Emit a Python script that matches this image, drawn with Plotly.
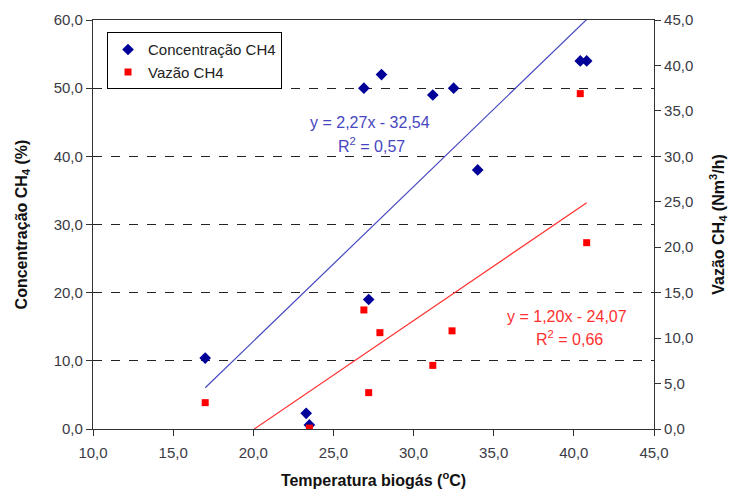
import plotly.graph_objects as go

# Data
temp_conc = [17.0, 23.3, 23.5, 26.9, 27.2, 28.0, 31.2, 32.5, 34.0, 40.4, 40.8]
conc_ch4 = [10.4, 2.3, 0.6, 50.0, 19.0, 52.0, 49.0, 50.0, 38.0, 54.0, 54.0]

temp_vaz = [17.0, 23.5, 26.9, 27.2, 27.9, 31.2, 32.4, 40.4, 40.8]
vazao_ch4 = [2.9, 0.1, 13.1, 4.0, 10.6, 7.0, 10.8, 36.9, 20.5]

# Trendline coefficients (slope, intercept) and R² shown on the chart
conc_fit = [2.27, -32.54]
vaz_fit = [1.20, -24.07]
conc_r2 = 0.57
vaz_r2 = 0.66

x_ticks = [10, 15, 20, 25, 30, 35, 40, 45]
y1_ticks = [0, 10, 20, 30, 40, 50, 60]
y2_ticks = [0, 5, 10, 15, 20, 25, 30, 35, 40, 45]


def fmt(v, d=1):
    return f"{v:.{d}f}".replace(".", ",")


FONT = "Liberation Sans, Arial, sans-serif"
BLUE_LINE = "#4646c0"
RED_LINE = "#ff3030"

fig = go.Figure()

# trend lines
x0c, x1c = min(temp_conc), max(temp_conc)
fig.add_trace(go.Scatter(
    x=[x0c, x1c], y=[conc_fit[0] * x0c + conc_fit[1], conc_fit[0] * x1c + conc_fit[1]],
    mode="lines", line=dict(color=BLUE_LINE, width=1.2), showlegend=False, hoverinfo="skip"))

x0v = -vaz_fit[1] / vaz_fit[0]
x1v = max(temp_vaz)
fig.add_trace(go.Scatter(
    x=[x0v, x1v], y=[0, vaz_fit[0] * x1v + vaz_fit[1]], yaxis="y2",
    mode="lines", line=dict(color=RED_LINE, width=1.2), showlegend=False, hoverinfo="skip"))

fig.add_trace(go.Scatter(
    x=temp_conc, y=conc_ch4, mode="markers", name="Concentração CH4",
    marker=dict(symbol="diamond", color="#000099", size=9)))
fig.add_trace(go.Scatter(
    x=temp_vaz, y=vazao_ch4, mode="markers", name="Vazão CH4", yaxis="y2",
    marker=dict(symbol="square", color="#ff0000", size=7)))

tickfont = dict(family=FONT, size=15, color="#3a3a44")
titlefont = dict(family=FONT, size=16, color="#111111")

fig.update_layout(
    width=732, height=496,
    margin=dict(l=93, r=78, t=20, b=67),
    paper_bgcolor="white", plot_bgcolor="white",
    font=dict(family=FONT),
    xaxis=dict(
        range=[10, 45], tickvals=x_ticks, ticktext=[fmt(v) for v in x_ticks],
        showgrid=False, zeroline=False, showline=True, linecolor="#333", linewidth=1.2,
        mirror=True, ticks="outside", ticklen=6, tickcolor="#333", tickfont=tickfont,
        ticklabelstandoff=4, automargin=False,
        title=dict(text="<b>Temperatura biogás (<sup>o</sup>C)</b>", font=titlefont, standoff=14)),
    yaxis=dict(
        range=[0, 60], tickvals=y1_ticks, ticktext=[fmt(v) for v in y1_ticks],
        showgrid=True, gridcolor="#222", griddash="dash", gridwidth=1,
        zeroline=False, showline=True, linecolor="#333", linewidth=1.2,
        mirror=True, ticks="outside", ticklen=6, tickcolor="#333", tickfont=tickfont,
        automargin=False,
        title=dict(text="<b>Concentração CH<sub>4</sub> (%)</b>", font=titlefont, standoff=22)),
    yaxis2=dict(
        range=[0, 45], tickvals=y2_ticks, ticktext=[fmt(v) for v in y2_ticks],
        overlaying="y", side="right", showgrid=False, zeroline=False,
        showline=True, linecolor="#333", linewidth=1.2,
        ticks="outside", ticklen=6, tickcolor="#333", tickfont=tickfont,
        automargin=False,
        title=dict(text="<b>Vazão CH<sub>4</sub> (Nm<sup>3</sup>/h)</b>", font=titlefont, standoff=20)),
    legend=dict(
        x=0.025, y=0.97, xanchor="left", yanchor="top",
        bgcolor="white", bordercolor="black", borderwidth=1,
        font=dict(family=FONT, size=15, color="#222"), itemwidth=30,
        tracegroupgap=2),
    showlegend=True,
)

fig.add_annotation(x=27.3, y=45.0, xref="x", yref="y",
                   text=f"y = {fmt(conc_fit[0], 2)}x - {fmt(abs(conc_fit[1]), 2)}",
                   showarrow=False, font=dict(family=FONT, size=16, color=BLUE_LINE))
fig.add_annotation(x=27.4, y=41.6, xref="x", yref="y",
                   text=f"R<sup>2</sup> = {fmt(conc_r2, 2)}",
                   showarrow=False, font=dict(family=FONT, size=16, color=BLUE_LINE))
fig.add_annotation(x=39.6, y=12.4, xref="x", yref="y2",
                   text=f"y = {fmt(vaz_fit[0], 2)}x - {fmt(abs(vaz_fit[1]), 2)}",
                   showarrow=False, font=dict(family=FONT, size=16, color=RED_LINE))
fig.add_annotation(x=39.7, y=10.0, xref="x", yref="y2",
                   text=f"R<sup>2</sup> = {fmt(vaz_r2, 2)}",
                   showarrow=False, font=dict(family=FONT, size=16, color=RED_LINE))

fig.write_html("out.html")
